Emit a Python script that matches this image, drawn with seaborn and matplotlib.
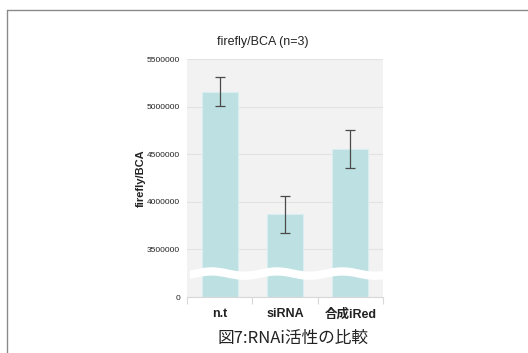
import numpy as np
import pandas as pd
import matplotlib
matplotlib.use("Agg")
import matplotlib.pyplot as plt
from matplotlib.lines import Line2D
import seaborn as sns

# firefly luciferase signal normalised by BCA protein (n=3)
categories = ["n.t", "siRNA", "合成iRed"]
means = [5158000, 3867000, 4554000]
errors = [148000, 195000, 200000]
tick_values = [0, 3500000, 4000000, 4500000, 5000000, 5500000]
tick_labels = ["0", "3500000", "4000000", "4500000", "5000000", "5500000"]

sns.set_theme(style="white")
plt.rcParams["font.family"] = ["Liberation Sans", "Noto Sans CJK JP", "DejaVu Sans"]

df = pd.DataFrame({"group": categories, "value": means})

fig = plt.figure(figsize=(5.28, 3.53), dpi=100)
ax = fig.add_axes([187 / 528, 1 - 297 / 353, 196 / 528, 238 / 353])
ax.set_facecolor("#f2f2f2")

# broken value axis: 0..3.5M compressed into one tick interval
BREAK_LO, BREAK_HI = 3000000, 3500000


def fwd(v):
    v = np.asarray(v, dtype=float)
    return np.where(v >= BREAK_HI, v - BREAK_LO, v * (BREAK_HI - BREAK_LO) / BREAK_HI)


def inv(u):
    u = np.asarray(u, dtype=float)
    return np.where(u >= BREAK_HI - BREAK_LO, u + BREAK_LO, u * BREAK_HI / (BREAK_HI - BREAK_LO))


ax.set_yscale("function", functions=(fwd, inv))

sns.barplot(data=df, x="group", y="value", color="#bde0e3", saturation=1,
            width=0.55, edgecolor="#d8eef0", linewidth=0.8, ax=ax, zorder=2)
ax.errorbar(np.arange(len(categories)), means, yerr=errors, fmt="none",
            ecolor="#4a4a4a", elinewidth=0.9, capsize=3.5, capthick=0.9, zorder=4)

ax.set_ylim(0, 5500000)
ax.set_xlim(-0.5, len(categories) - 0.5)
ax.set_yticks(tick_values)
ax.set_yticklabels(tick_labels)
ax.yaxis.grid(True, color="#e2e2e2", linewidth=0.8, zorder=0)
ax.set_axisbelow(True)
ax.tick_params(axis="y", length=0, pad=5, labelsize=6, labelcolor="#222222")
ax.tick_params(axis="x", which="major", length=0, pad=8, labelsize=9, labelcolor="#222222")
for lab in ax.get_xticklabels():
    lab.set_fontweight("bold")
ax.set_xticks(np.arange(-0.5, len(categories)), minor=True)
ax.tick_params(axis="x", which="minor", length=5, width=0.8, color="#d8d8d8", bottom=True)

for s in ["top", "right", "left"]:
    ax.spines[s].set_visible(False)
ax.spines["bottom"].set_color("#d8d8d8")
ax.spines["bottom"].set_linewidth(0.8)

ax.set_xlabel("")
ax.set_ylabel("firefly/BCA", fontsize=8, fontweight="bold", color="#222222", labelpad=1)

# wavy white band marking the axis break
xs = np.linspace(0.012, 1.0, 300)
wave = 0.009 * np.sin(2 * np.pi * (xs * 3.0 - 0.12))
ax.fill_between(xs, 0.083 + wave, 0.118 + wave, transform=ax.transAxes,
                color="white", linewidth=0, zorder=3)

fig.text(263 / 528, 1 - 42 / 353, "firefly/BCA (n=3)", ha="center", va="center",
         fontsize=9, color="#222222")
fig.text(293 / 528, 1 - 338 / 353, "図7:RNAi活性の比較", ha="center", va="center",
         fontsize=12, color="#222222", family=["Noto Sans CJK JP", "DejaVu Sans"])

# page frame lines
fig.add_artist(Line2D([7 / 528, 1.0], [1 - 10 / 353] * 2, color="#8a8a8a",
                      linewidth=1.0, transform=fig.transFigure))
fig.add_artist(Line2D([7 / 528] * 2, [0.0, 1 - 10 / 353], color="#8a8a8a",
                      linewidth=1.0, transform=fig.transFigure))

fig.savefig("out.png", dpi=100, facecolor="white")
